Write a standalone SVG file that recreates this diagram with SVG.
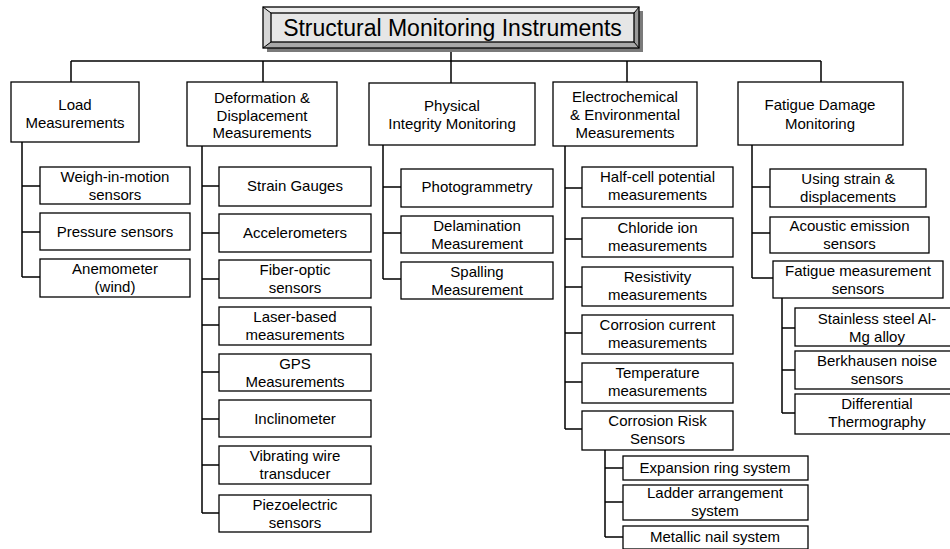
<svg xmlns="http://www.w3.org/2000/svg" width="950" height="549" viewBox="0 0 950 549">
  <style>
    .box { fill: #ffffff; stroke: #000000; stroke-width: 1.3; }
    .lbl { font-family: "Liberation Sans", Arial, sans-serif; font-size: 15px; fill: #000000; text-anchor: middle; }
    .ttl { font-family: "Liberation Sans", Arial, sans-serif; font-size: 23px; fill: #000000; text-anchor: middle; }
    .wire { fill: none; stroke: #000000; stroke-width: 1.5; }
  </style>
  <rect width="950" height="549" fill="#ffffff"/>

  <!-- connectors -->
  <g id="connectors" class="wire">
    <!-- root stem and top bus -->
    <path d="M451 48 V83"/>
    <path d="M71 61 H821"/>
    <path d="M71 61 V82 M263 61 V82 M627 61 V82 M821 61 V82"/>
    <!-- load -->
    <path d="M22 142 V277 M22 186 H40 M22 232 H40 M22 277 H40"/>
    <!-- deformation -->
    <path d="M202 146 V513 M202 186 H219 M202 233 H219 M202 279 H219 M202 325 H219 M202 372 H219 M202 419 H219 M202 465 H219 M202 513 H219"/>
    <!-- physical integrity -->
    <path d="M383 145 V279 M383 187 H401 M383 233 H401 M383 279 H401"/>
    <!-- electrochemical -->
    <path d="M565 146 V429 M565 188 H582 M565 239 H582 M565 287 H582 M565 333 H582 M565 382 H582 M565 429 H582"/>
    <path d="M605 450 V537 M605 468 H623 M605 502 H623 M605 537 H623"/>
    <!-- fatigue -->
    <path d="M752 145 V278 M752 187 H770 M752 233 H770 M752 278 H773"/>
    <path d="M782 298 V413 M782 328 H795 M782 370 H795 M782 413 H795"/>
  </g>

  <!-- root: bevelled title panel -->
  <g id="root">
    <rect x="267" y="11" width="376" height="41" fill="#7a7a7a"/>
    <polygon points="263,7 639,7 634,13 271,13" fill="#ececec"/>
    <polygon points="263,7 271,13 271,42 263,48" fill="#d6d6d6"/>
    <polygon points="639,7 639,48 634,42 634,13" fill="#9a9a9a"/>
    <polygon points="263,48 639,48 634,42 271,42" fill="#a8a8a8"/>
    <rect x="263" y="7" width="376" height="41" fill="none" stroke="#000" stroke-width="1.3"/>
    <rect x="271" y="13" width="363" height="29" fill="#e6e6e6" stroke="#000" stroke-width="1.3"/>
    <path d="M263 7 L271 13 M639 7 L634 13 M263 48 L271 42 M639 48 L634 42" stroke="#000" stroke-width="1"/>
    <text class="ttl" x="452.5" y="36">Structural Monitoring Instruments</text>
  </g>

  <!-- Load column -->
  <g id="load">
    <rect class="box" x="11" y="82" width="128" height="60"/>
    <text class="lbl" x="75" y="110">Load</text>
    <text class="lbl" x="75" y="128">Measurements</text>
  </g>
  <g id="weigh-in-motion">
    <rect class="box" x="40" y="167" width="150" height="37"/>
    <text class="lbl" x="115" y="182">Weigh-in-motion</text>
    <text class="lbl" x="115" y="200">sensors</text>
  </g>
  <g id="pressure">
    <rect class="box" x="40" y="213" width="150" height="37"/>
    <text class="lbl" x="115" y="237">Pressure sensors</text>
  </g>
  <g id="anemometer">
    <rect class="box" x="40" y="259" width="150" height="38"/>
    <text class="lbl" x="115" y="274">Anemometer</text>
    <text class="lbl" x="115" y="292">(wind)</text>
  </g>

  <!-- Deformation column -->
  <g id="deformation">
    <rect class="box" x="187" y="82" width="150" height="64"/>
    <text class="lbl" x="262" y="103">Deformation &amp;</text>
    <text class="lbl" x="262" y="120.5">Displacement</text>
    <text class="lbl" x="262" y="138">Measurements</text>
  </g>
  <g id="strain-gauges">
    <rect class="box" x="219" y="167" width="152" height="39"/>
    <text class="lbl" x="295" y="191">Strain Gauges</text>
  </g>
  <g id="accelerometers">
    <rect class="box" x="219" y="214" width="152" height="38"/>
    <text class="lbl" x="295" y="238">Accelerometers</text>
  </g>
  <g id="fiber-optic">
    <rect class="box" x="219" y="260" width="152" height="38"/>
    <text class="lbl" x="295" y="275">Fiber-optic</text>
    <text class="lbl" x="295" y="293">sensors</text>
  </g>
  <g id="laser">
    <rect class="box" x="219" y="307" width="152" height="38"/>
    <text class="lbl" x="295" y="322">Laser-based</text>
    <text class="lbl" x="295" y="340">measurements</text>
  </g>
  <g id="gps">
    <rect class="box" x="219" y="354" width="152" height="37"/>
    <text class="lbl" x="295" y="369">GPS</text>
    <text class="lbl" x="295" y="387">Measurements</text>
  </g>
  <g id="inclinometer">
    <rect class="box" x="219" y="400" width="152" height="37"/>
    <text class="lbl" x="295" y="424">Inclinometer</text>
  </g>
  <g id="vibrating-wire">
    <rect class="box" x="219" y="446" width="152" height="38"/>
    <text class="lbl" x="295" y="461">Vibrating wire</text>
    <text class="lbl" x="295" y="479">transducer</text>
  </g>
  <g id="piezoelectric">
    <rect class="box" x="219" y="495" width="152" height="37"/>
    <text class="lbl" x="295" y="510">Piezoelectric</text>
    <text class="lbl" x="295" y="528">sensors</text>
  </g>

  <!-- Physical integrity column -->
  <g id="physical">
    <rect class="box" x="369" y="83" width="166" height="62"/>
    <text class="lbl" x="452" y="111">Physical</text>
    <text class="lbl" x="452" y="129">Integrity Monitoring</text>
  </g>
  <g id="photogrammetry">
    <rect class="box" x="401" y="169" width="152" height="38"/>
    <text class="lbl" x="477" y="192">Photogrammetry</text>
  </g>
  <g id="delamination">
    <rect class="box" x="401" y="216" width="152" height="37"/>
    <text class="lbl" x="477" y="231">Delamination</text>
    <text class="lbl" x="477" y="249">Measurement</text>
  </g>
  <g id="spalling">
    <rect class="box" x="401" y="262" width="152" height="37"/>
    <text class="lbl" x="477" y="277">Spalling</text>
    <text class="lbl" x="477" y="295">Measurement</text>
  </g>

  <!-- Electrochemical column -->
  <g id="electrochemical">
    <rect class="box" x="553" y="82" width="144" height="64"/>
    <text class="lbl" x="625" y="102">Electrochemical</text>
    <text class="lbl" x="625" y="120">&amp; Environmental</text>
    <text class="lbl" x="625" y="138">Measurements</text>
  </g>
  <g id="half-cell">
    <rect class="box" x="582" y="167" width="151" height="40"/>
    <text class="lbl" x="657.5" y="182">Half-cell potential</text>
    <text class="lbl" x="657.5" y="200">measurements</text>
  </g>
  <g id="chloride">
    <rect class="box" x="582" y="218" width="151" height="39"/>
    <text class="lbl" x="657.5" y="233">Chloride ion</text>
    <text class="lbl" x="657.5" y="251">measurements</text>
  </g>
  <g id="resistivity">
    <rect class="box" x="582" y="267" width="151" height="39"/>
    <text class="lbl" x="657.5" y="282">Resistivity</text>
    <text class="lbl" x="657.5" y="300">measurements</text>
  </g>
  <g id="corrosion-current">
    <rect class="box" x="582" y="315" width="151" height="39"/>
    <text class="lbl" x="657.5" y="330">Corrosion current</text>
    <text class="lbl" x="657.5" y="348">measurements</text>
  </g>
  <g id="temperature">
    <rect class="box" x="582" y="363" width="151" height="40"/>
    <text class="lbl" x="657.5" y="378">Temperature</text>
    <text class="lbl" x="657.5" y="396">measurements</text>
  </g>
  <g id="corrosion-risk">
    <rect class="box" x="582" y="411" width="151" height="39"/>
    <text class="lbl" x="657.5" y="426">Corrosion Risk</text>
    <text class="lbl" x="657.5" y="444">Sensors</text>
  </g>
  <g id="expansion-ring">
    <rect class="box" x="623" y="456" width="185" height="24"/>
    <text class="lbl" x="715" y="473">Expansion ring system</text>
  </g>
  <g id="ladder">
    <rect class="box" x="623" y="485" width="185" height="35"/>
    <text class="lbl" x="715" y="498">Ladder arrangement</text>
    <text class="lbl" x="715" y="516">system</text>
  </g>
  <g id="metallic-nail">
    <rect class="box" x="623" y="526" width="185" height="23"/>
    <text class="lbl" x="715" y="542">Metallic nail system</text>
  </g>

  <!-- Fatigue column -->
  <g id="fatigue">
    <rect class="box" x="738" y="82" width="165" height="63"/>
    <text class="lbl" x="820" y="110">Fatigue Damage</text>
    <text class="lbl" x="820" y="129">Monitoring</text>
  </g>
  <g id="strain-displacements">
    <rect class="box" x="770" y="169" width="156" height="38"/>
    <text class="lbl" x="848" y="184">Using strain &amp;</text>
    <text class="lbl" x="848" y="202">displacements</text>
  </g>
  <g id="acoustic">
    <rect class="box" x="770" y="217" width="159" height="36"/>
    <text class="lbl" x="849.5" y="231">Acoustic emission</text>
    <text class="lbl" x="849.5" y="249">sensors</text>
  </g>
  <g id="fatigue-sensors">
    <rect class="box" x="773" y="261" width="170" height="37"/>
    <text class="lbl" x="858" y="276">Fatigue measurement</text>
    <text class="lbl" x="858" y="294">sensors</text>
  </g>
  <g id="stainless">
    <rect class="box" x="795" y="308" width="164" height="38"/>
    <text class="lbl" x="877" y="324">Stainless steel Al-</text>
    <text class="lbl" x="877" y="342">Mg alloy</text>
  </g>
  <g id="berkhausen">
    <rect class="box" x="795" y="351" width="164" height="38"/>
    <text class="lbl" x="877" y="366">Berkhausen noise</text>
    <text class="lbl" x="877" y="384">sensors</text>
  </g>
  <g id="thermography">
    <rect class="box" x="795" y="394" width="164" height="40"/>
    <text class="lbl" x="877" y="409">Differential</text>
    <text class="lbl" x="877" y="427">Thermography</text>
  </g>
</svg>
